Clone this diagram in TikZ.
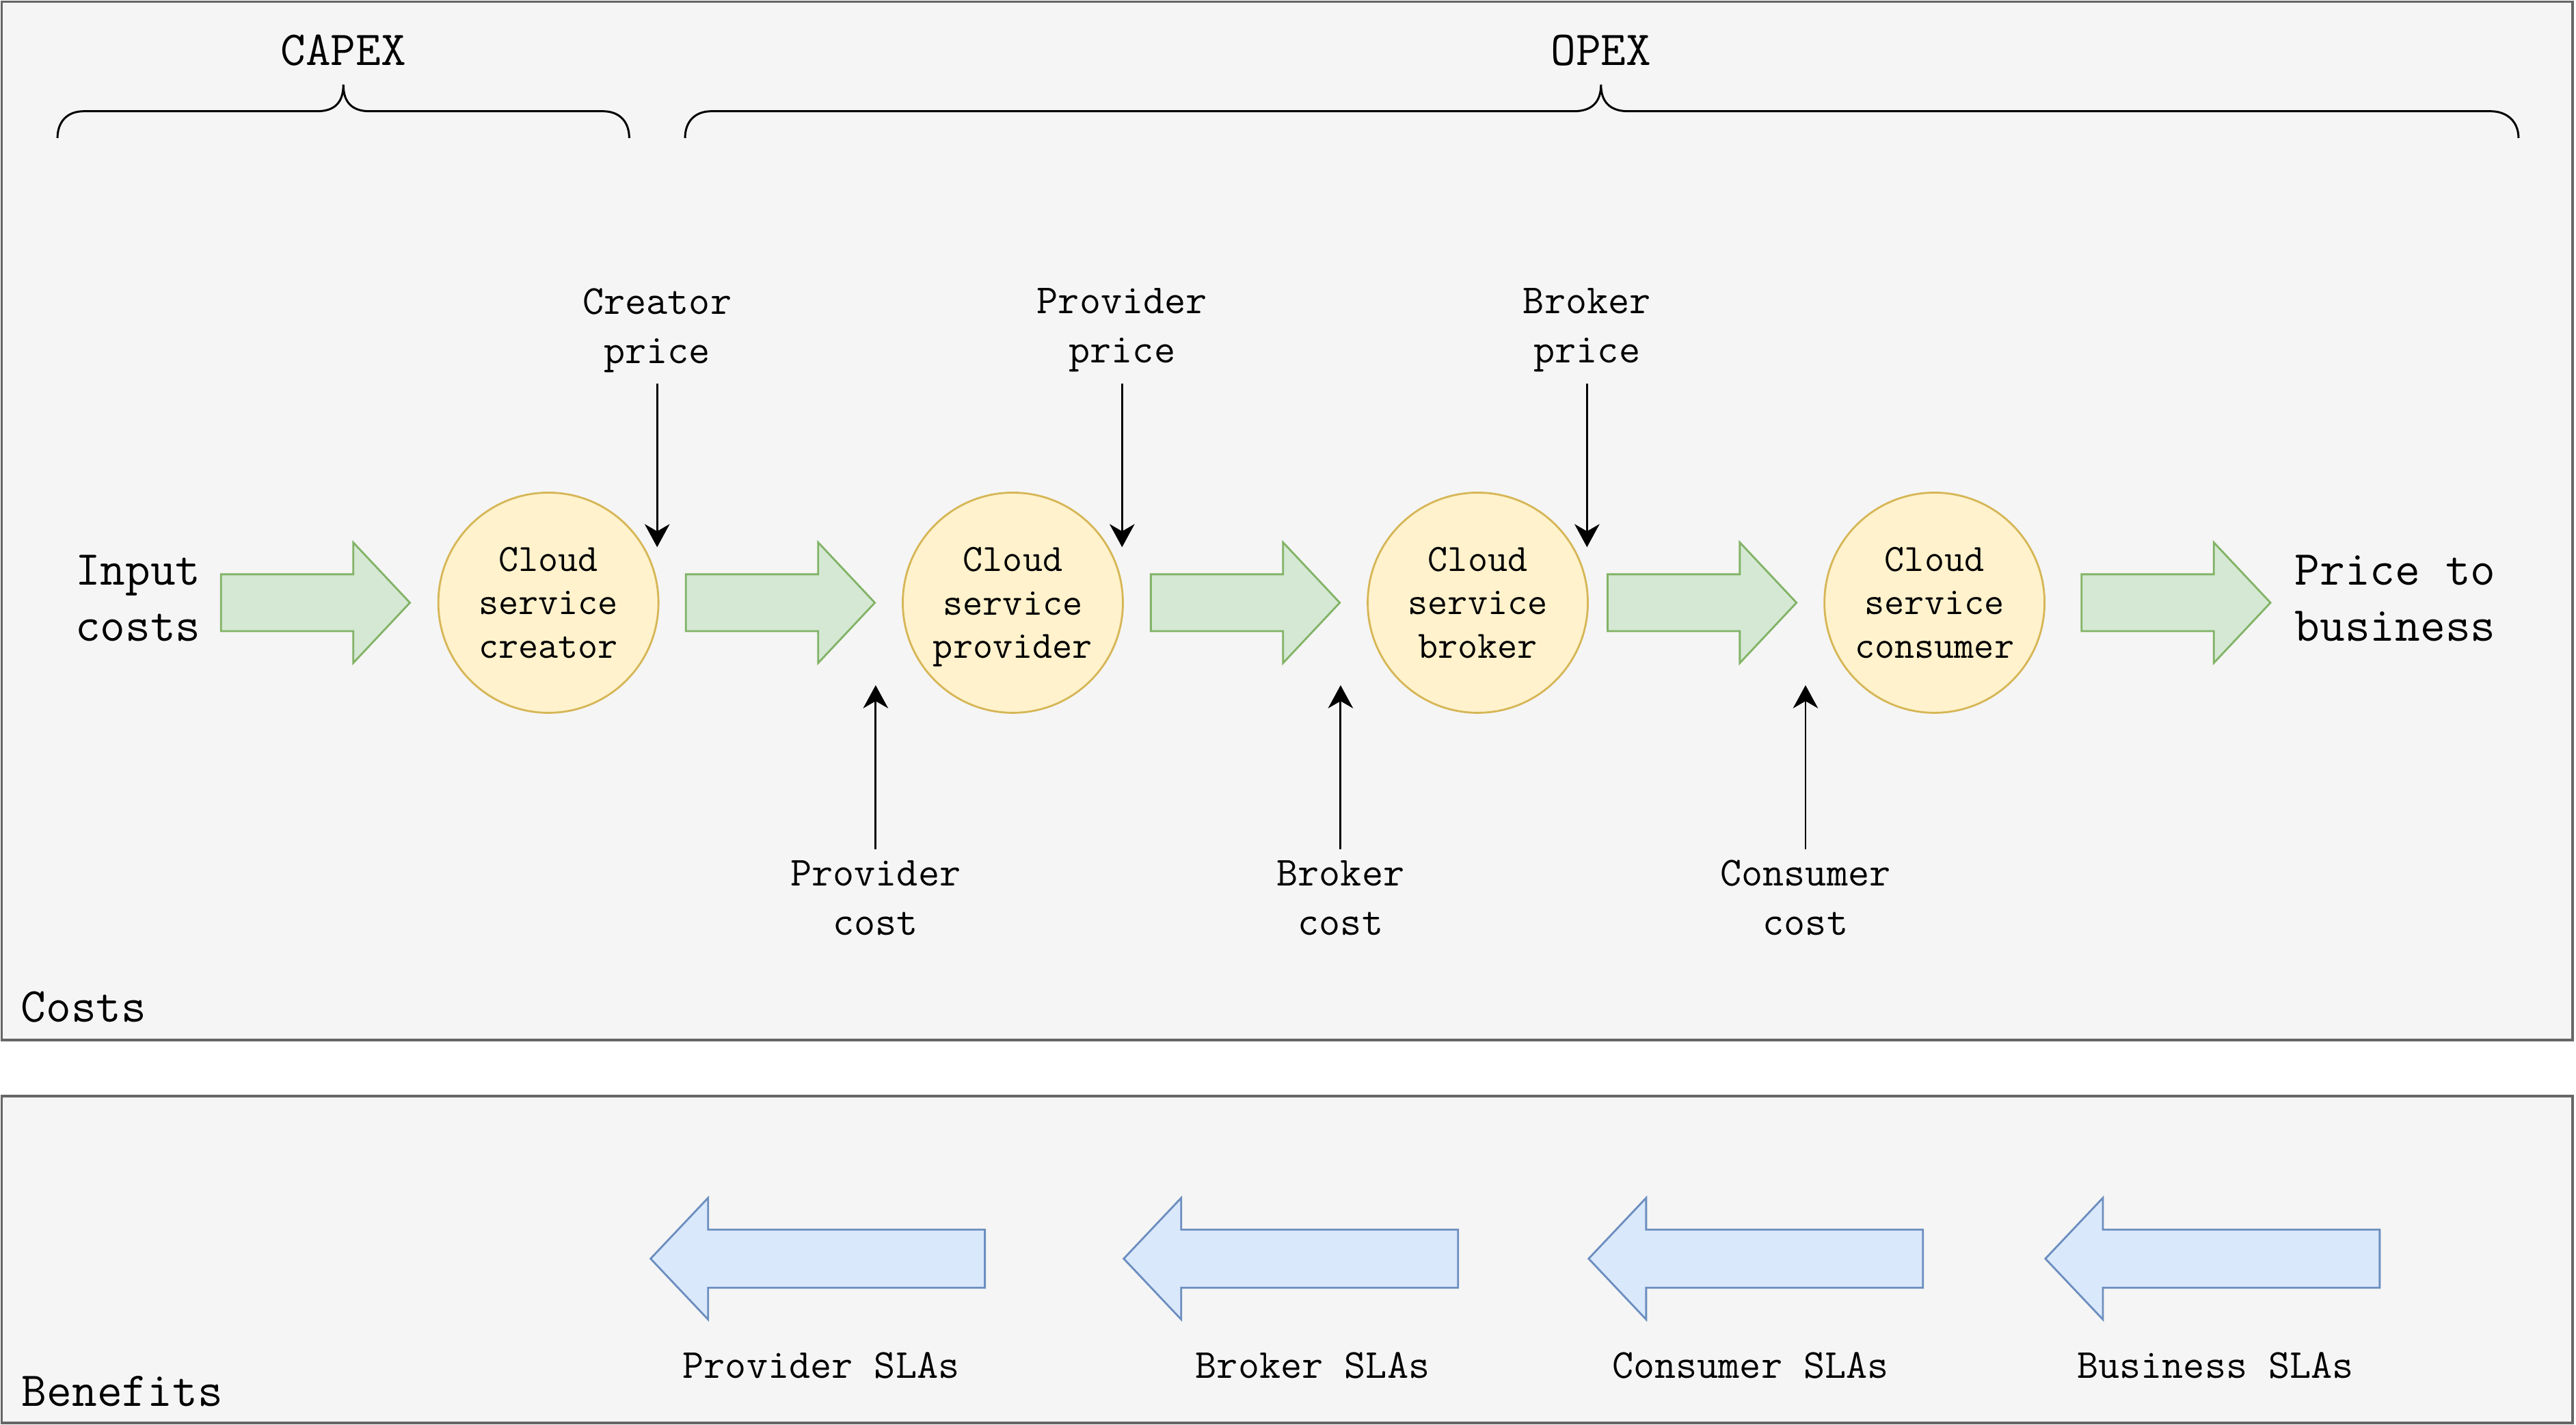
\documentclass[tikz,border=0pt]{standalone}
\usepackage{fontspec}
\usetikzlibrary{arrows.meta}
\definecolor{panelfill}{HTML}{F5F5F5}
\definecolor{panelline}{HTML}{666666}
\definecolor{gfill}{HTML}{D5E8D4}
\definecolor{gline}{HTML}{82B366}
\definecolor{bfill}{HTML}{DAE8FC}
\definecolor{bline}{HTML}{6C8EBF}
\definecolor{yfill}{HTML}{FFF2CC}
\definecolor{yline}{HTML}{D6B656}
\newcommand\fcloud{\fontsize{16.1pt}{18pt}\selectfont\ttfamily}
\newcommand\fmid{\fontsize{17.2pt}{20.5pt}\selectfont\ttfamily}
\newcommand\fbig{\fontsize{20.3pt}{23.3pt}\selectfont\ttfamily}
\newcommand\nodepth[1]{\raisebox{0pt}[\height][0pt]{#1}}
\tikzset{
  panel/.style={draw=panelline, fill=panelfill, line width=1pt},
  cloudsvc/.style={circle, draw=yline, fill=yfill, line width=0.8pt, minimum size=3.22cm, inner sep=0pt, align=center, font=\fcloud},
  lbl/.style={inner sep=0pt, align=center, font=\fmid},
  biglbl/.style={inner sep=0pt, align=center, font=\fbig},
  ptr/.style={line width=0.85pt, -{Stealth[length=9.6pt, width=10.4pt, inset=3pt]}},
  garrowsty/.style={draw=gline, fill=gfill, line width=0.8pt, line join=miter},
  barrowsty/.style={draw=bline, fill=bfill, line width=0.8pt, line join=miter},
  bracesty/.style={draw=black, line width=0.85pt},
  garr/.pic={\path[garrowsty] (0,-17.3) -- (80.5,-17.3) -- (80.5,-36.7) -- (115,0) -- (80.5,36.7) -- (80.5,17.3) -- (0,17.3) -- cycle;},
  barr/.pic={\path[barrowsty] (0,0) -- (35,-37) -- (35,-17.7) -- (203.5,-17.7) -- (203.5,17.7) -- (35,17.7) -- (35,37) -- cycle;}
}
\begin{document}
\begin{tikzpicture}[x=0.024031cm, y=-0.024031cm]
\useasboundingbox (0,0) rectangle (1568,867);

% panels
\path[panel] (1,1) rectangle (1566,633);
\path[panel] (1,667) rectangle (1566,866);
\node[biglbl, anchor=base west] (costs) at (12.5,622) {Costs};
\node[biglbl, anchor=base west] (benefits) at (13,855.6) {Benefits};

% braces
\node[biglbl] (capex) at (209,30.7) {CAPEX};
\node[biglbl] (opex) at (974.5,30.7) {OPEX};
\path[bracesty] (35,84) .. controls (35,74) and (41,67.7) .. (51,67.7) -- (193,67.7)
  .. controls (204,67.7) and (209,62) .. (209,51.5)
  .. controls (209,62) and (214,67.7) .. (225,67.7) -- (367,67.7)
  .. controls (377,67.7) and (383,74) .. (383,84);
\path[bracesty] (417,84) .. controls (417,74) and (423,67.7) .. (433,67.7) -- (958,67.7)
  .. controls (969,67.7) and (974.5,62) .. (974.5,51.5)
  .. controls (974.5,62) and (980,67.7) .. (991,67.7) -- (1516,67.7)
  .. controls (1526,67.7) and (1533,74) .. (1533,84);

% input / output
\node[biglbl] (input) at (84,364) {Input\\costs};
\node[biglbl] (price) at (1458,364) {Price to\\business};

% circles
\node[cloudsvc] (creator) at (333.8,366.8) {Cloud\\service\\creator};
\node[cloudsvc] (provider) at (616.5,366.8) {Cloud\\service\\\nodepth{provider}};
\node[cloudsvc] (broker) at (899.5,366.8) {Cloud\\service\\broker};
\node[cloudsvc] (consumer) at (1177.5,366.8) {Cloud\\service\\consumer};

% green arrows
\pic (g1) at (134.5,366.8) {garr};
\pic (g2) at (417.5,366.8) {garr};
\pic (g3) at (700.5,366.8) {garr};
\pic (g4) at (978.5,366.8) {garr};
\pic (g5) at (1267,366.8) {garr};

% price labels and arrows
\node[lbl] (crp) at (400,201) {Creator\\price};
\node[lbl] (prp) at (683,201) {Provider\\price};
\node[lbl] (brp) at (966,201) {Broker\\price};
\coordinate (crpT) at (400,333);
\coordinate (prpT) at (683,333);
\coordinate (brpT) at (966,333);
\draw[ptr] (crp) ++(0,32.5) -- (crpT);
\draw[ptr] (prp) ++(0,32.5) -- (prpT);
\draw[ptr] (brp) ++(0,32.5) -- (brpT);

% cost labels and arrows
\node[lbl] (pvc) at (533,546.5) {Provider\\cost};
\node[lbl] (brc) at (816,546.5) {Broker\\cost};
\node[lbl] (csc) at (1099,546.5) {Consumer\\cost};
\coordinate (pvcT) at (533,417);
\coordinate (brcT) at (816,417);
\coordinate (cscT) at (1099,417);
\draw[ptr] (pvc) ++(0,-29.5) -- (pvcT);
\draw[ptr] (brc) ++(0,-29.5) -- (brcT);
\draw[ptr] (csc) ++(0,-29.5) -- (cscT);

% blue arrows
\pic (b1) at (396,766) {barr};
\pic (b2) at (684,766) {barr};
\pic (b3) at (967,766) {barr};
\pic (b4) at (1245,766) {barr};
\node[lbl] (psla) at (499.8,831) {Provider SLAs};
\node[lbl] (bsla) at (799,831) {Broker SLAs};
\node[lbl] (csla) at (1065.5,831) {Consumer SLAs};
\node[lbl] (usla) at (1348.5,831) {Business SLAs};
\end{tikzpicture}
\end{document}
